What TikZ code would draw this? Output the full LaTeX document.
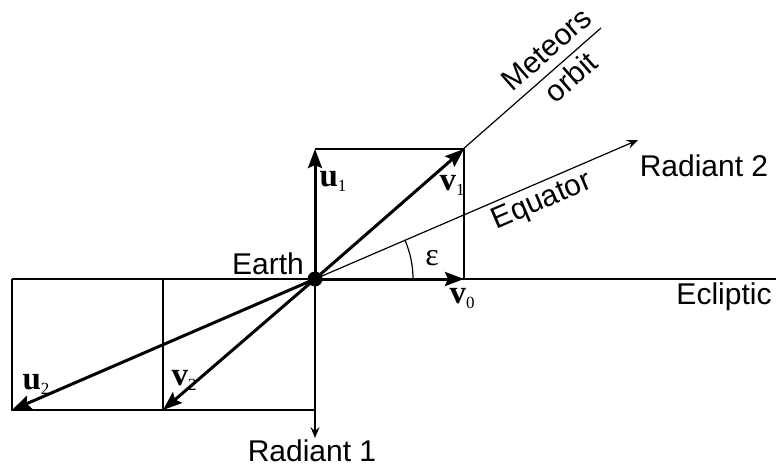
\documentclass[tikz,border=0pt]{standalone}
\usepackage{fontspec}
\setmainfont{Liberation Sans}
\newfontfamily\serifvec{Liberation Serif}
\usetikzlibrary{arrows.meta}
\tikzset{
  thinline/.style={line width=1.2pt, draw=black},
  vecline/.style={line width=3pt, draw=black, -{Stealth[length=19pt,width=14pt,inset=3pt]}},
  thinarrow/.style={line width=1.2pt, draw=black, -{Stealth[length=11pt,width=9pt,inset=4pt]}},
  lbl/.style={font=\fontsize{30}{36}\selectfont, inner sep=0pt},
  veclbl/.style={font=\serifvec\bfseries\fontsize{33}{38}\selectfont, inner sep=0pt},
}
\newcommand{\vecsub}[2]{#1\raisebox{-5pt}{\fontsize{17}{20}\selectfont\mdseries #2}}
\begin{document}
\begin{tikzpicture}[x=1pt,y=-1pt]
\useasboundingbox (0,0) rectangle (776,467);
% coordinates
\coordinate (E) at (315,279);
\coordinate (A) at (464,149);
\coordinate (U1) at (315,149);
\coordinate (V0) at (464,279);
\coordinate (L) at (12,279);
\coordinate (R) at (776,279);
\coordinate (B) at (12,410);
\coordinate (M) at (163,410);
\coordinate (MT) at (163,279);
\coordinate (BM) at (315,410);
\coordinate (R1) at (315,438);
\coordinate (MO) at (601,28);
\coordinate (R2) at (638,140);
% thin lines
\draw[thinline] (L) -- (R);
\draw[thinline] (U1) -- (A) -- (V0);
\draw[thinline] (L) -- (B) -- (BM) -- (E);
\draw[thinline] (MT) -- (M);
\draw[thinarrow] (BM) -- (R1);
\draw[thinline] (E) -- (MO)
  node[lbl, pos=.855, sloped, above=9pt] (meteors) {Meteors}
  node[lbl, pos=.855, sloped, below=5pt] (orbit) {orbit};
\draw[thinarrow] (E) -- (R2)
  node[lbl, pos=.68, sloped, below=5pt] (equator) {Equator};
% epsilon arc
\draw[thinline] (E) ++(98,0) arc[start angle=0, end angle=-23.3, radius=98];
% vectors
\draw[vecline] (E) -- (U1);
\draw[vecline] (E) -- (A);
\draw[vecline] (E) -- (V0);
\draw[vecline] (E) -- (B);
\draw[vecline] (E) -- (M);
% earth
\fill (E) circle[radius=7.5];
% labels
\node[lbl, anchor=east] (earth) at (304,264) {Earth};
\node[lbl] (ecl) at (724,297) {Ecliptic};
\node[lbl] (rad1) at (312,451) {Radiant 1};
\node[lbl] (rad2) at (704,166) {Radiant 2};
\node[font=\serifvec\fontsize{32}{36}\selectfont, inner sep=0pt] (eps) at (432,258) {ε};
\node[veclbl] (u1) at (333,181) {\vecsub{u}{1}};
\node[veclbl] (v1) at (452,185) {\vecsub{v}{1}};
\node[veclbl] (v0) at (462,299) {\vecsub{v}{0}};
\node[veclbl] (u2) at (36,384) {\vecsub{u}{2}};
\node[veclbl] (v2) at (184,380) {\vecsub{v}{2}};
\end{tikzpicture}
\end{document}
